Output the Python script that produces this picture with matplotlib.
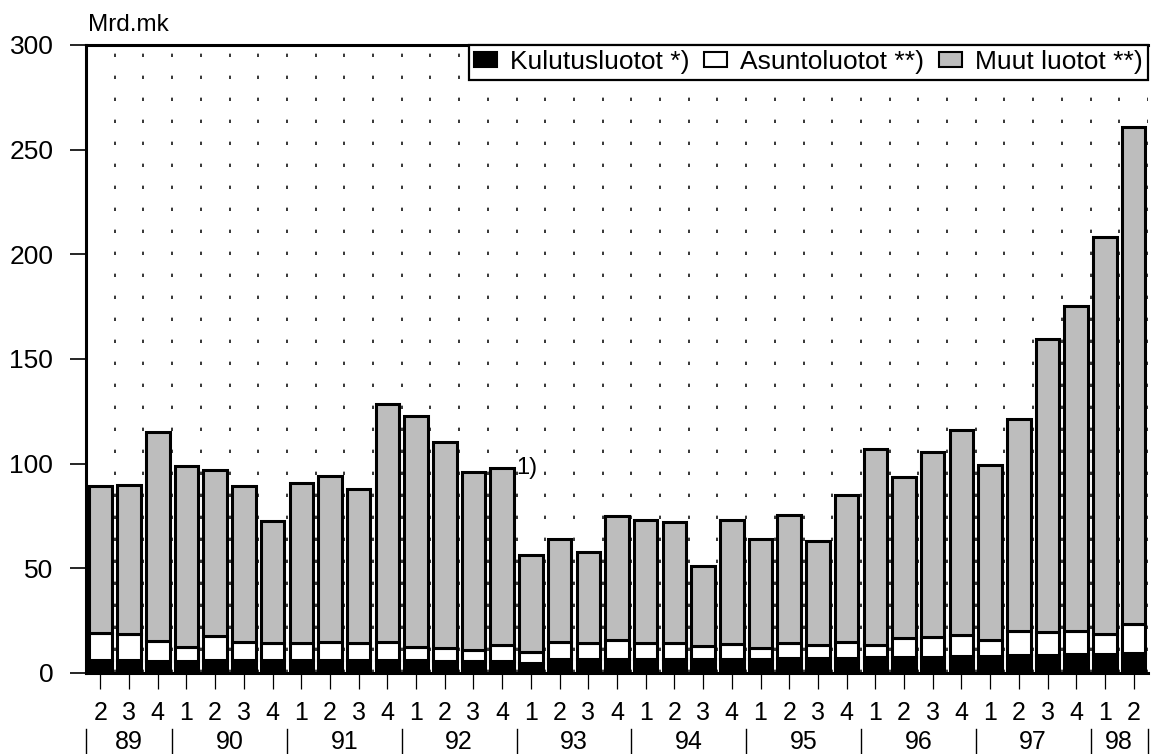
import matplotlib
matplotlib.use("Agg")
import matplotlib.pyplot as plt
from matplotlib.patches import Patch
import numpy as np

plt.rcParams['font.family'] = ['Liberation Sans', 'DejaVu Sans']

quarters = ["2", "3", "4",
            "1", "2", "3", "4",
            "1", "2", "3", "4",
            "1", "2", "3", "4",
            "1", "2", "3", "4",
            "1", "2", "3", "4",
            "1", "2", "3", "4",
            "1", "2", "3", "4",
            "1", "2", "3", "4",
            "1", "2"]
years = ["89", "90", "91", "92", "93", "94", "95", "96", "97", "98"]
quarters_per_year = [3, 4, 4, 4, 4, 4, 4, 4, 4, 2]

kulutusluotot = [6, 6, 5.5, 5.5, 6, 6, 6, 6, 6, 6, 6, 6, 5.5, 5.5, 5.5,
                 5, 6.5, 6.5, 6.5, 6.5, 6.5, 6.5, 6.5, 6.5, 7, 7, 7,
                 7.5, 7.5, 7.5, 8, 8, 8.5, 8.5, 9, 9, 9.5]
asuntoluotot = [13, 12.5, 10, 7, 11.5, 9, 8.5, 8.5, 9, 8.5, 9, 6.5, 6.5, 5.5, 8,
                5, 8.5, 8, 9.5, 8, 8, 6.5, 7.5, 5.5, 7.5, 6.5, 8,
                6, 9, 9.5, 10, 8, 11.5, 11, 11, 9.5, 14]
muut_luotot = [70.5, 71.5, 99.5, 86.5, 79.5, 74.5, 58, 76.5, 79, 73.5, 113.5, 110.5, 98.5, 85, 84.5,
               46.5, 49, 43.5, 59, 58.5, 57.5, 38, 59, 52, 61, 49.5, 70,
               93.5, 77, 88.5, 98, 83.5, 101.5, 140, 155.5, 190, 237.5]

series_labels = ["Kulutusluotot *)", "Asuntoluotot **)", "Muut luotot **)"]
grey = "#bdbdbd"

W, H = 1151, 754
fig = plt.figure(figsize=(W / 100, H / 100), dpi=100)
ax = fig.add_axes([86 / W, (H - 673) / H, (1148 - 86) / W, (673 - 45) / H])

n = len(quarters)
x = np.arange(n)
k = np.array(kulutusluotot)
a = np.array(asuntoluotot)
m = np.array(muut_luotot)

# vertical dotted grid at category boundaries
for b in np.arange(-0.5, n, 1.0)[1:]:
    ax.axvline(b, color="black", lw=1.1, linestyle=(0, (2.2, 12.2)), zorder=0)

bw = 0.82
lw = 2.2
ax.bar(x, k, width=bw, color="black", edgecolor="black", linewidth=lw, zorder=2)
ax.bar(x, a, bottom=k, width=bw, color="white", edgecolor="black", linewidth=lw, zorder=2)
ax.bar(x, m, bottom=k + a, width=bw, color=grey, edgecolor="black", linewidth=lw, zorder=2)

ax.set_xlim(-0.5, n - 0.5)
ax.set_ylim(0, 300)
ax.set_yticks(range(0, 301, 50))
ax.tick_params(axis="y", direction="out", length=11.5, width=1.2, pad=12, labelsize=19)
ax.set_xticks(x)
ax.set_xticklabels(quarters)
ax.tick_params(axis="x", direction="out", length=11.5, width=0.9, pad=9, labelsize=18)

for s in ["left", "top", "bottom"]:
    ax.spines[s].set_linewidth(2.2)
ax.spines["right"].set_visible(False)

# year labels and separators
trans = ax.get_xaxis_transform()
start = -0.5
bounds = [start]
for yr, cnt in zip(years, quarters_per_year):
    end = start + cnt
    ax.annotate(yr, xy=((start + end) / 2, 0), xycoords=trans,
                xytext=(0, -50), textcoords="offset points",
                ha="center", va="center", fontsize=18)
    bounds.append(end)
    start = end
y0 = -(729 - 673) / (673 - 45)
y1 = -(754 - 673) / (673 - 45)
for b in bounds:
    ax.plot([b, b], [y0, y1], transform=trans, color="black", lw=1.0, clip_on=False)

# note
ax.text(14.5, 98, "1)", ha="left", va="center", fontsize=17)

fig.text(88 / W, 1 - 31 / H, "Mrd.mk", ha="left", va="baseline", fontsize=17.5)

handles = [Patch(facecolor="black", edgecolor="black", linewidth=1.5),
           Patch(facecolor="white", edgecolor="black", linewidth=1.5),
           Patch(facecolor=grey, edgecolor="black", linewidth=1.5)]
leg = ax.legend(handles, series_labels, loc="upper right", ncol=3, fontsize=19,
                frameon=True, fancybox=False, framealpha=1, edgecolor="black",
                borderaxespad=0, handlelength=0.87, handleheight=0.5,
                handletextpad=0.5, columnspacing=0.55, borderpad=0.2)
leg.get_frame().set_linewidth(1.6)
leg.set_zorder(5)

fig.savefig("out.png", dpi=100)
